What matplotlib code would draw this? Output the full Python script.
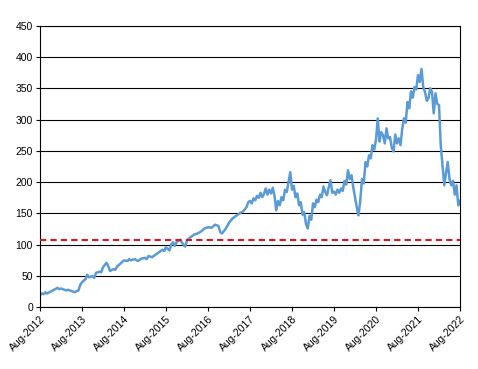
import matplotlib
matplotlib.use("Agg")
import matplotlib.pyplot as plt

plt.rcParams['font.family'] = ['Liberation Sans', 'DejaVu Sans']

# months since Aug-2012 (early part, sparse sampling)
months_early = [0, 0.5, 1, 1.5, 2, 3, 4, 5, 5.5, 6, 7, 7.5, 8, 9, 9.5, 10, 10.5, 11, 11.5,
                12, 13, 13.5, 14, 15, 15.5, 16, 17, 17.5, 18, 19, 19.5, 20, 21, 21.5, 22, 23,
                24, 25, 25.5, 26, 27, 28, 29, 30, 30.5, 31, 32, 33, 34, 35, 35.5, 36, 37, 37.5,
                38, 38.5, 39, 40, 40.5, 41, 41.5, 42, 43, 44, 45, 46, 47, 48, 49, 50, 51, 51.5,
                52, 53, 54, 55, 56, 57, 58, 59, 59.5]
values_early = [19, 22, 21, 24, 22, 25, 28, 31, 29, 30, 28, 27, 28, 26, 25, 24, 26, 27, 36,
                40, 45, 52, 48, 50, 47, 55, 57, 56, 64, 71, 66, 58, 61, 60, 65, 70,
                75, 74, 77, 75, 77, 74, 78, 79, 77, 82, 80, 84, 88, 92, 90, 96, 91, 100,
                104, 98, 104, 108, 104, 100, 97, 107, 112, 116, 118, 121, 126, 128, 127, 132, 130, 120,
                118, 125, 135, 142, 146, 150, 153, 160, 168]

# months since Aug-2012 (later part, half-month sampling)
months_late = [60, 60.5, 61, 61.5, 62, 62.5, 63, 63.5, 64, 64.5, 65, 65.5,
               66, 66.5, 67, 67.5, 68, 68.5, 69, 69.5, 70, 70.5, 71, 71.5,
               72, 72.5, 73, 73.5, 74, 74.5, 75, 75.5, 76, 76.5, 77, 77.5,
               78, 78.5, 79, 79.5, 80, 80.5, 81, 81.5, 82, 82.5, 83, 83.5,
               84, 84.5, 85, 85.5, 86, 86.5, 87, 87.5, 88, 88.5, 89, 89.5,
               90, 90.5, 91, 91.5, 92, 92.5, 93, 93.5, 94, 94.5, 95, 95.5,
               96, 96.5, 97, 97.5, 98, 98.5, 99, 99.5, 100, 100.5, 101, 101.5,
               102, 102.5, 103, 103.5, 104, 104.5, 105, 105.5, 106, 106.5, 107, 107.5,
               108, 108.5, 109, 109.5, 110, 110.5, 111, 111.5, 112, 112.5, 113, 113.5,
               114, 114.5, 115, 115.5, 116, 116.5, 117, 117.5, 118, 118.5, 119, 119.5, 120]
values_late = [170, 166, 174, 171, 178, 175, 183, 176, 181, 190, 180, 188,
               182, 191, 178, 155, 170, 163, 176, 171, 188, 184, 200, 216,
               188, 194, 176, 182, 163, 168, 148, 152, 133, 126, 146, 140,
               166, 160, 172, 168, 180, 176, 193, 184, 179, 192, 203, 183,
               185, 180, 188, 183, 190, 186, 202, 196, 219, 205, 211, 192,
               176, 160, 147, 170, 205, 198, 232, 225, 243, 238, 259, 252,
               268, 302, 265, 280, 275, 262, 286, 270, 272, 255, 249, 276,
               262, 270, 259, 285, 302, 295, 328, 318, 345, 335, 352, 348,
               371, 360, 381, 352, 344, 330, 334, 350, 344, 310, 342, 325,
               323, 259, 227, 195, 215, 232, 205, 195, 202, 180, 195, 163, 170]

reference_level = 107
tick_labels = ['Aug-2012', 'Aug-2013', 'Aug-2014', 'Aug-2015', 'Aug-2016', 'Aug-2017',
               'Aug-2018', 'Aug-2019', 'Aug-2020', 'Aug-2021', 'Aug-2022']
y_ticks = [0, 50, 100, 150, 200, 250, 300, 350, 400, 450]

months = months_early + months_late
values = values_early + values_late

fig = plt.figure(figsize=(4.78, 3.69), dpi=100)
ax = fig.add_axes([40/478, 1 - 307.3/369, 420/478, (307.3-25.7)/369])

ax.set_axisbelow(True)
for yv in y_ticks:
    ax.axhline(yv, color='black', lw=0.8, zorder=0)

ax.plot(months, values, color='#5B9BD5', lw=1.8, zorder=2)
ax.axhline(reference_level, color='#E0141E', lw=1.5, ls=(0, (3, 2)), zorder=3)

ax.set_xlim(0, 120)
ax.set_ylim(0, 450)
ax.set_xticks([12 * i for i in range(len(tick_labels))])
ax.set_xticklabels(tick_labels, rotation=45, ha='right', rotation_mode='anchor')
ax.set_yticks(y_ticks)
ax.tick_params(axis='both', direction='out', length=3, width=0.8, labelsize=7.5, pad=2, colors='black')
for s in ax.spines.values():
    s.set_color('black')
    s.set_linewidth(0.8)

fig.savefig('out.png', dpi=100)
